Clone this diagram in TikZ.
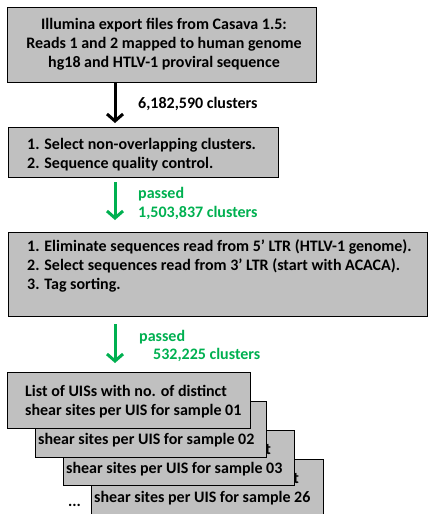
\documentclass[tikz,border=0pt]{standalone}
\usepackage{fontspec}
\setmainfont{Carlito}
\usetikzlibrary{arrows.meta}
\definecolor{boxgray}{RGB}{192,192,192}
\definecolor{pgreen}{RGB}{0,176,80}
\begin{document}
\begin{tikzpicture}[x=1pt,y=-1pt,
  box/.style={draw=black, fill=boxgray, line width=1.4pt, inner sep=0pt, anchor=north west},
  txt/.style={font=\fontsize{16}{19}\selectfont\bfseries, inner sep=0pt, align=left, anchor=west},
  ctxt/.style={font=\fontsize{16}{19}\selectfont\bfseries, inner sep=0pt, align=center},
  arr/.style={line width=3pt, -{Straight Barb[length=7pt,width=16pt,line width=3pt]}},
  gtxt/.style={txt, text=pgreen}]
\useasboundingbox (0,0) rectangle (429,514);
\clip (0,0) rectangle (429,514);
\coordinate (ax) at (115,0);
% box A
\node[box, minimum width=309pt, minimum height=75pt] (A) at (7,7) {};
\node[ctxt] (At) at (164,44) {Illumina export files from Casava 1.5:\\Reads 1 and 2 mapped to human genome\\hg18 and HTLV-1 proviral sequence};
% box B
\node[box, minimum width=270pt, minimum height=50pt] (B) at (8,127) {};
\node[txt] (Bt) at (27,155) {1. Select non-overlapping clusters.\\2. Sequence quality control.};
% box C
\node[box, minimum width=419pt, minimum height=84pt] (C) at (8,232) {};
\node[txt] (Ct) at (27,266) {1. Eliminate sequences read from 5’ LTR (HTLV-1 genome).\\2. Select sequences read from 3’ LTR (start with ACACA).\\3. Tag sorting.};
% stacked boxes, back to front (first lines hidden behind the box in front)
\node[box, minimum width=232pt, minimum height=70pt] (S26) at (91,459) {};
\node[txt] (S26a) at (97,478) {\phantom{List of UISs with no. of distinc}t};
\node[txt] (S26t) at (94,498) {shear sites per UIS for sample 26};
\node[box, minimum width=231pt, minimum height=55pt] (S03) at (63,430) {};
\node[txt] (S03a) at (69,449) {\phantom{List of UISs with no. of distinc}t};
\node[txt] (S03t) at (66,469) {shear sites per UIS for sample 03};
\node[box, minimum width=231pt, minimum height=56pt] (S02) at (35,401) {};
\node[txt] (S02t) at (38,440) {shear sites per UIS for sample 02};
\node[box, minimum width=243pt, minimum height=56pt] (S01) at (7,372) {};
\node[txt] (S01t) at (25,401.5) {List of UISs with no. of distinct\\shear sites per UIS for sample 01};
\node[txt] (dots) at (68,505) {...};
% arrows
\draw[arr] (A.south -| ax) -- ([yshift=4pt]B.north -| ax);
\node[txt] (L1) at (138,104) {6,182,590 clusters};
\draw[arr, draw=pgreen] ([yshift=-4pt]B.south -| ax) -- ([yshift=12pt]C.north -| ax);
\node[gtxt] (L2) at (138,203) {passed\\1,503,837 clusters};
\draw[arr, draw=pgreen] ([yshift=-7pt]C.south -| ax) -- ([yshift=9pt]S01.north -| ax);
\node[gtxt] (L3a) at (139,337) {passed};
\node[gtxt] (L3b) at (153,355) {532,225 clusters};
\end{tikzpicture}
\end{document}
